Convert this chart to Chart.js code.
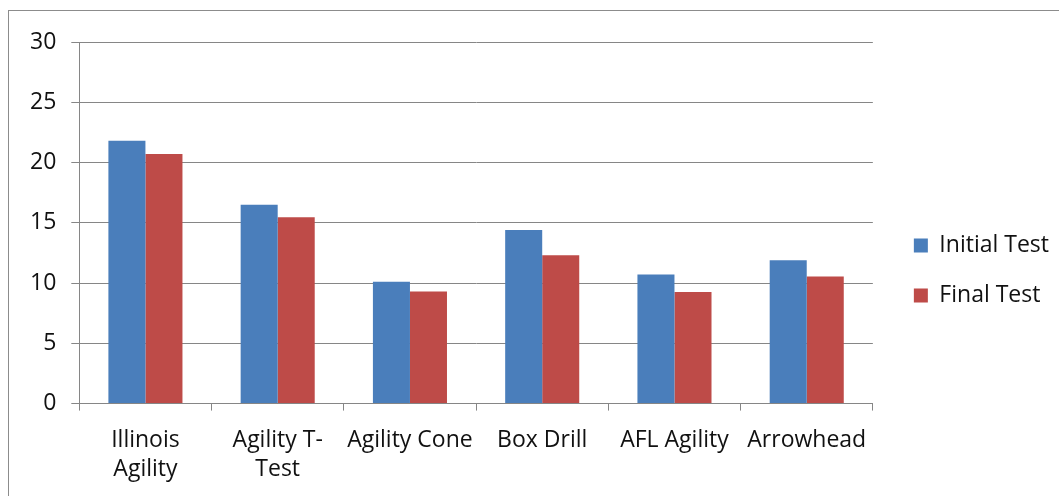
<!DOCTYPE html>
<html>
<head>
<meta charset="utf-8">
<script src="https://cdn.jsdelivr.net/npm/chart.js@4.4.1/dist/chart.umd.min.js"></script>
<style>
  html, body { margin: 0; padding: 0; background: #fff; }
  #frame { position: absolute; left: 8px; top: 10px; width: 1060px; height: 500px; border: 1px solid #8c8c8c; }
  #wrap { position: absolute; left: 0; top: 0; width: 1059px; height: 496px; }
</style>
</head>
<body>
<div id="frame"></div>
<div id="wrap"><canvas id="agilityChart"></canvas></div>
<script>
// Test names (wrapped like the original labels)
var tests = [["Illinois", "Agility"], ["Agility T-", "Test"], "Agility Cone", "Box Drill", "AFL Agility", "Arrowhead"];
var initialTest = [21.8, 16.5, 10.1, 14.4, 10.7, 11.9];
var finalTest = [20.7, 15.45, 9.3, 12.3, 9.25, 10.55];
var yTicks = [0, 5, 10, 15, 20, 25, 30];

document.addEventListener("DOMContentLoaded", function () {
  renderAgilityChart();
});

function renderAgilityChart() {
  var ctx = document.getElementById("agilityChart").getContext("2d");
  Chart.defaults.font.family = "'Open Sans', 'Liberation Sans', sans-serif";
  Chart.defaults.font.size = 23;
  Chart.defaults.color = "#111";

  new Chart(ctx, {
    type: "bar",
    data: {
      labels: tests,
      datasets: [
        {
          label: "Initial Test",
          data: initialTest,
          backgroundColor: "#4a7ebb",
          categoryPercentage: 0.56,
          barPercentage: 1.0,
        },
        {
          label: "Final Test",
          data: finalTest,
          backgroundColor: "#be4b48",
          categoryPercentage: 0.56,
          barPercentage: 1.0,
        },
      ],
    },
    options: {
      responsive: true,
      maintainAspectRatio: false,
      animation: false,
      layout: { padding: { left: 15, top: 42, right: 0, bottom: -3 } },
      plugins: {
        tooltip: { enabled: false },
        legend: {
          position: "right",
          align: "center",
          labels: {
            boxWidth: 14,
            boxHeight: 14,
            padding: 27,
            font: { size: 23 },
          },
        },
      },
      scales: {
        x: {
          grid: {
            display: true,
            drawOnChartArea: false,
            drawTicks: true,
            tickLength: 7,
            color: "#868686",
          },
          border: { color: "#868686" },
          ticks: { padding: 15, maxRotation: 0, autoSkip: false, font: { lineHeight: 1.27 } },
        },
        y: {
          min: 0,
          max: 30,
          afterBuildTicks: function (axis) {
            axis.ticks = yTicks.map(function (v) { return { value: v }; });
          },
          grid: { color: "#868686", tickLength: 8 },
          border: { color: "#868686" },
          ticks: { padding: 15 },
        },
        // empty right-hand axis, only to keep a gap before the legend
        gap: {
          position: "right",
          grid: { display: false },
          border: { display: false },
          ticks: { display: false },
          afterFit: function (axis) { axis.width = 14; },
        },
      },
    },
  });
}
</script>
</body>
</html>
